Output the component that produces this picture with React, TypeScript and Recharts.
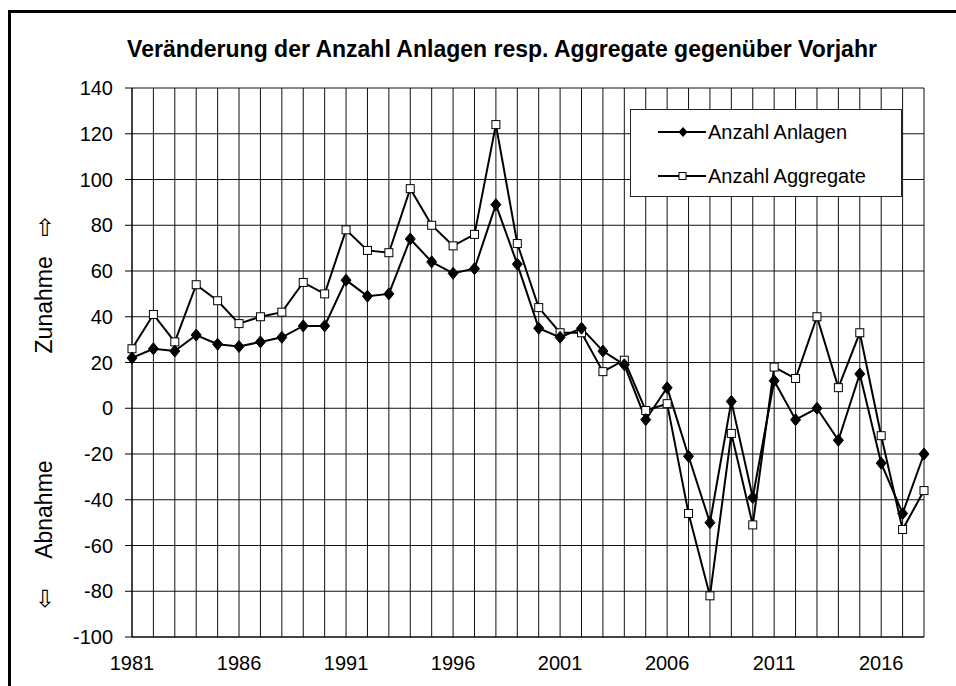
import React from "react";
import {
  LineChart,
  Line,
  XAxis,
  YAxis,
  CartesianGrid,
  Legend,
} from "recharts";

const years = [
  1981, 1982, 1983, 1984, 1985, 1986, 1987, 1988, 1989, 1990,
  1991, 1992, 1993, 1994, 1995, 1996, 1997, 1998, 1999, 2000,
  2001, 2002, 2003, 2004, 2005, 2006, 2007, 2008, 2009, 2010,
  2011, 2012, 2013, 2014, 2015, 2016, 2017, 2018,
];

const anlagen = [
  22, 26, 25, 32, 28, 27, 29, 31, 36, 36,
  56, 49, 50, 74, 64, 59, 61, 89, 63, 35,
  31, 35, 25, 19, -5, 9, -21, -50, 3, -39,
  12, -5, 0, -14, 15, -24, -46, -20,
];

const aggregate = [
  26, 41, 29, 54, 47, 37, 40, 42, 55, 50,
  78, 69, 68, 96, 80, 71, 76, 124, 72, 44,
  33, 33, 16, 21, -1, 2, -46, -82, -11, -51,
  18, 13, 40, 9, 33, -12, -53, -36,
];

const xTicks = [1981, 1986, 1991, 1996, 2001, 2006, 2011, 2016];
const yTicks = [-100, -80, -60, -40, -20, 0, 20, 40, 60, 80, 100, 120, 140];

const seriesNames = ["Anzahl Anlagen", "Anzahl Aggregate"];

const data = years.map((y, i) => ({
  year: y,
  anlagen: anlagen[i],
  aggregate: aggregate[i],
}));

const FONT = '"Liberation Sans", Arial, sans-serif';

function Diamond({ cx, cy }: any) {
  if (cx == null || cy == null) return null;
  return (
    <path
      d={`M${cx},${cy - 6} L${cx + 5},${cy} L${cx},${cy + 6} L${cx - 5},${cy} Z`}
      fill="#000"
      stroke="#000"
      strokeWidth={1}
    />
  );
}

function Square({ cx, cy }: any) {
  if (cx == null || cy == null) return null;
  return (
    <rect x={cx - 4} y={cy - 4} width={8} height={8} fill="#fff" stroke="#000" strokeWidth={1} />
  );
}

function AxisTitle({ viewBox }: any) {
  const cx = viewBox.x - 28;
  const top = viewBox.y;
  const h = viewBox.height;
  const zy = top + h * 0.395;
  const ay = top + h * 0.768;
  return (
    <g fontFamily={FONT} fill="#000">
      <text
        x={cx + 1}
        y={top + h * 0.255}
        fontSize={24}
        textAnchor="middle"
        dominantBaseline="central"
        fontFamily="DejaVu Sans"
      >
        ⇧
      </text>
      <text
        x={cx}
        y={zy}
        fontSize={23}
        textAnchor="middle"
        dominantBaseline="central"
        transform={`rotate(-90 ${cx} ${zy})`}
      >
        Zunahme
      </text>
      <text
        x={cx}
        y={ay}
        fontSize={23}
        textAnchor="middle"
        dominantBaseline="central"
        transform={`rotate(-90 ${cx} ${ay})`}
      >
        Abnahme
      </text>
      <text
        x={cx + 1}
        y={top + h * 0.93}
        fontSize={24}
        textAnchor="middle"
        dominantBaseline="central"
        fontFamily="DejaVu Sans"
      >
        ⇩
      </text>
    </g>
  );
}

function LegendBox() {
  const rows = [
    { name: seriesNames[0], marker: "diamond" },
    { name: seriesNames[1], marker: "square" },
  ];
  return (
    <div
      style={{
        width: 270,
        height: 86,
        border: "1px solid #222",
        background: "#fff",
        fontFamily: FONT,
        fontSize: 20,
        color: "#000",
        boxSizing: "content-box",
      }}
    >
      {rows.map((r, i) => (
        <div
          key={r.name}
          style={{
            position: "absolute",
            left: 0,
            top: i === 0 ? 12 : 56,
            height: 22,
            display: "flex",
            alignItems: "center",
          }}
        >
          <svg width={78} height={22} style={{ display: "block" }}>
            <line x1={28} x2={76} y1={11} y2={11} stroke="#000" strokeWidth={2} />
            {r.marker === "diamond" ? (
              <path d="M53,6 L57.5,11 L53,16 L48.5,11 Z" fill="#000" />
            ) : (
              <rect x={49} y={7.5} width={7} height={7} fill="#fff" stroke="#000" strokeWidth={1} />
            )}
          </svg>
          <span style={{ whiteSpace: "nowrap" }}>{r.name}</span>
        </div>
      ))}
    </div>
  );
}

export default function App() {
  return (
    <div
      style={{
        position: "absolute",
        left: 0,
        top: 0,
        width: 956,
        height: 686,
        overflow: "hidden",
        background: "#fff",
      }}
    >
      <div
        style={{
          position: "absolute",
          left: 8,
          top: 10,
          width: 1000,
          height: 800,
          borderLeft: "3px solid #000",
          borderTop: "3px solid #000",
        }}
      />
      <div
        style={{
          position: "absolute",
          left: 0,
          top: 37,
          width: 1004,
          textAlign: "center",
          fontFamily: FONT,
          fontWeight: "bold",
          fontSize: 23,
          lineHeight: "24px",
          color: "#000",
          whiteSpace: "nowrap",
        }}
      >
        Veränderung der Anzahl Anlagen resp. Aggregate gegenüber Vorjahr
      </div>
      <div style={{ position: "absolute", left: 0, top: 0 }}>
        <LineChart
          width={956}
          height={686}
          data={data}
          margin={{ top: 88, right: 32, bottom: 19, left: 72 }}
        >
          <CartesianGrid
            stroke="#111"
            strokeWidth={1}
            verticalValues={years}
            horizontalValues={yTicks}
          />
          <XAxis
            dataKey="year"
            type="number"
            domain={[1981, 2018]}
            ticks={xTicks}
            interval={0}
            height={30}
            tickLine={false}
            axisLine={{ stroke: "#000" }}
            tickMargin={13}
            tick={{ fontSize: 20, fill: "#000", fontFamily: FONT }}
          />
          <YAxis
            type="number"
            domain={[-100, 140]}
            ticks={yTicks}
            interval={0}
            width={60}
            tickSize={7}
            tickMargin={12}
            tickLine={{ stroke: "#000" }}
            axisLine={{ stroke: "#000" }}
            tick={{ fontSize: 20, fill: "#000", fontFamily: FONT }}
            label={{ content: <AxisTitle /> }}
          />
          <Legend
            layout="vertical"
            align="center"
            verticalAlign="middle"
            content={() => <LegendBox />}
            wrapperStyle={{ position: "absolute", left: 630, top: 109, width: 272, height: 88 }}
          />
          <Line
            dataKey="aggregate"
            name={seriesNames[1]}
            stroke="#000"
            strokeWidth={2}
            dot={(p: any) => <Square key={`s${p.index}`} {...p} />}
            isAnimationActive={false}
          />
          <Line
            dataKey="anlagen"
            name={seriesNames[0]}
            stroke="#000"
            strokeWidth={2}
            dot={(p: any) => <Diamond key={`d${p.index}`} {...p} />}
            isAnimationActive={false}
          />
        </LineChart>
      </div>
    </div>
  );
}
